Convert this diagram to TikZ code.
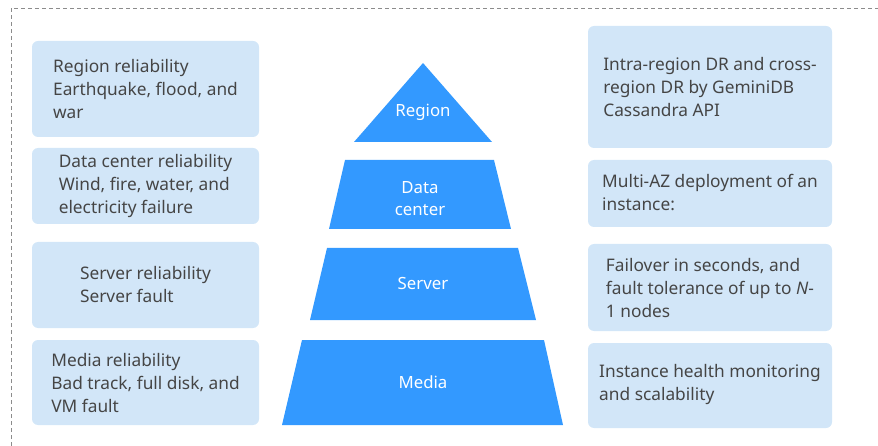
\documentclass[tikz,border=0pt]{standalone}
\usepackage{fontspec}
\setmainfont{Noto Sans}
\definecolor{pyr}{HTML}{3399FF}
\definecolor{boxfill}{HTML}{D2E6F8}
\definecolor{txt}{HTML}{454545}
\definecolor{frame}{HTML}{8C8C8C}
\tikzset{
  infobox/.style={fill=boxfill, rounded corners=6pt, draw=none},
  infotext/.style={text=txt, align=left, font=\fontsize{17.3}{23}\selectfont, inner sep=0pt},
  pyrtext/.style={text=white, align=center, font=\fontsize{16.8}{22}\selectfont, inner sep=0pt},
  pyrpart/.style={fill=pyr, draw=none}
}
\begin{document}
\begin{tikzpicture}[x=1pt,y=-1pt]
\useasboundingbox (0,0) rectangle (878,446);
% dashed frame
\draw[frame, line width=0.8pt, dash pattern=on 4pt off 3pt] (11,460) -- (11,8) -- (890,8);
% left boxes
\fill[infobox] (32,41) rectangle (259,137);
\fill[infobox] (32,148) rectangle (259,224);
\fill[infobox] (32,242) rectangle (259,328);
\fill[infobox] (32,340) rectangle (259,425);
\node[infotext] (l1) at (145.5,89) {Region reliability\\Earthquake, flood, and\\war};
\node[infotext] (l2) at (145.5,186) {Data center reliability\\Wind, fire, water, and\\electricity failure};
\node[infotext] (l3) at (145.5,285) {Server reliability\\Server fault};
\node[infotext] (l4) at (145.5,383) {Media reliability\\Bad track, full disk, and\\VM fault};
% right boxes
\fill[infobox] (588,26) rectangle (832,148);
\fill[infobox] (588,160) rectangle (832,227);
\fill[infobox] (588,244) rectangle (832,331);
\fill[infobox] (588,343) rectangle (832,428);
\node[infotext] (r1) at (710,87) {Intra-region DR and cross-\\region DR by GeminiDB\\Cassandra API};
\node[infotext] (r2) at (710,193) {Multi-AZ deployment of an\\instance:};
\node[infotext] (r3) at (710,288) {Failover in seconds, and\\fault tolerance of up to \textit{N}-\\1 nodes};
\node[infotext] (r4) at (710,385) {Instance health monitoring\\and scalability};
% pyramid
\fill[pyrpart] (423,63) -- (492,142) -- (354,142) -- cycle;
\fill[pyrpart] (345,160) -- (494,160) -- (511,229) -- (329,229) -- cycle;
\fill[pyrpart] (327,248) -- (518,248) -- (536,320) -- (310,320) -- cycle;
\fill[pyrpart] (302,340) -- (544,340) -- (563,425) -- (282,425) -- cycle;
\node[pyrtext] (p1) at (423,112) {Region};
\node[pyrtext] (p2) at (420,199) {Data\\center};
\node[pyrtext] (p3) at (423,284) {Server};
\node[pyrtext] (p4) at (423,382) {Media};
\end{tikzpicture}
\end{document}
